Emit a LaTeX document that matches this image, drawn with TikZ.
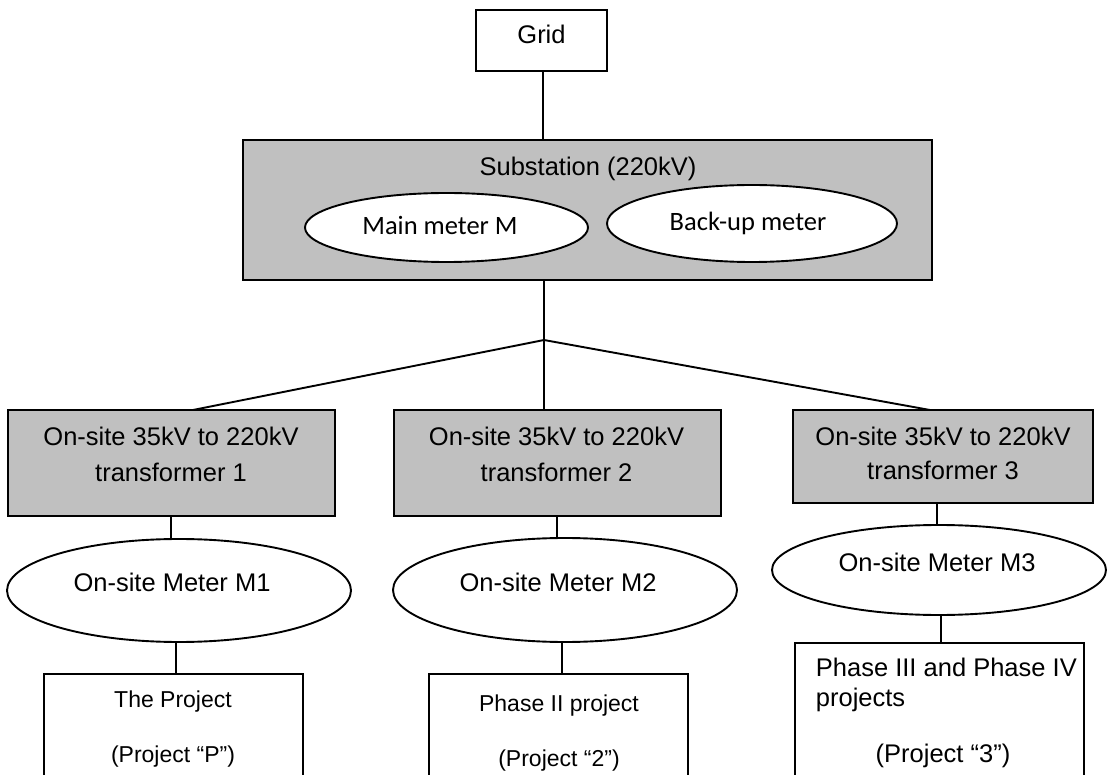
\documentclass[tikz,border=0pt]{standalone}
\usepackage{fontspec}
\setmainfont{Liberation Sans}
\newfontfamily\calib{Carlito}
\usetikzlibrary{shapes.geometric,calc}
\definecolor{boxgray}{RGB}{192,192,192}
\begin{document}
\begin{tikzpicture}[x=1pt,y=-1pt,line width=1.9pt,
  box/.style={draw,rectangle,inner sep=0pt,fill=white},
  graybox/.style={draw,rectangle,inner sep=0pt,fill=boxgray},
  meter/.style={draw,ellipse,inner sep=0pt,fill=white},
  txt/.style={inner sep=0pt,anchor=base,font=\fontsize{25.5}{30}\selectfont},
  smalltxt/.style={inner sep=0pt,anchor=base,font=\fontsize{23}{28}\selectfont},
  caltxt/.style={inner sep=0pt,anchor=base,font=\calib\fontsize{26.5}{30}\selectfont},
  lefttxt/.style={inner sep=0pt,anchor=base west,font=\fontsize{25.5}{30}\selectfont}]
\useasboundingbox (0,0) rectangle (1109,775);
\clip (0,0) rectangle (1109,775);
\fill[white] (0,0) rectangle (1109,775);

% boxes
\node[box,minimum width=131pt,minimum height=61pt] (grid) at (541.5,40.5) {};
\node[graybox,minimum width=689pt,minimum height=140pt] (sub) at (587.5,210) {};
\node[meter,minimum width=283pt,minimum height=69pt] (mm) at (446.5,227.5) {};
\node[meter,minimum width=290pt,minimum height=77pt] (bm) at (752,223.5) {};
\node[graybox,minimum width=327pt,minimum height=106pt] (t1) at (171.5,463) {};
\node[graybox,minimum width=327pt,minimum height=106pt] (t2) at (557.5,463) {};
\node[graybox,minimum width=300pt,minimum height=93pt] (t3) at (943,456.5) {};
\node[meter,minimum width=344pt,minimum height=103pt] (m1) at (179,590.5) {};
\node[meter,minimum width=344pt,minimum height=104pt] (m2) at (565,590) {};
\node[meter,minimum width=334pt,minimum height=90pt] (m3) at (939,570) {};
\node[box,minimum width=259pt,minimum height=116pt] (p1) at (173.5,732) {};
\node[box,minimum width=259pt,minimum height=116pt] (p2) at (558.5,732) {};
\node[box,minimum width=289pt,minimum height=147pt] (p3) at (939.5,716.5) {};

% texts
\node[txt] (gridt) at (541.5,44) {Grid};
\node[txt] (subt) at (588,176) {Substation (220kV)};
\node[caltxt] (mmt) at (440,235) {Main meter M};
\node[caltxt] (bmt) at (748,231) {Back-up meter};
\node[txt] (t1a) at (171,446) {On-site 35kV to 220kV};
\node[txt] (t1b) at (171,482) {transformer 1};
\node[txt] (t2a) at (556.5,446) {On-site 35kV to 220kV};
\node[txt] (t2b) at (556.5,482) {transformer 2};
\node[txt] (t3a) at (943,446) {On-site 35kV to 220kV};
\node[txt] (t3b) at (943,479) {transformer 3};
\node[txt] (m1t) at (172,591) {On-site Meter M1};
\node[txt] (m2t) at (558,591) {On-site Meter M2};
\node[txt] (m3t) at (937,571) {On-site Meter M3};
\node[smalltxt] (p1a) at (173,707) {The Project};
\node[smalltxt] (p1b) at (173,762) {(Project “P”)};
\node[smalltxt] (p2a) at (559,711) {Phase II project};
\node[smalltxt] (p2b) at (559,766) {(Project “2”)};
\node[lefttxt] (p3a) at (815,676) {Phase III and Phase IV};
\node[lefttxt] (p3b) at (815,706) {projects};
\node[txt] (p3c) at (943,762) {(Project “3”)};

% connectors
\coordinate (j) at (544,340);
\coordinate (e1) at (193,410);
\coordinate (e3) at (930,410);
\coordinate (gx) at (543,0);
\coordinate (d1) at (171,0);
\coordinate (d2) at (557,0);
\coordinate (d3) at (937,0);
\coordinate (c1) at (176,0);
\coordinate (c2) at (562,0);
\coordinate (c3) at (941,0);
\draw (gx |- grid.south) -- (gx |- sub.north);
\draw (j |- sub.south) -- (j) -- (j |- t2.north);
\draw (j) -- (e1);
\draw (j) -- (e3);
\draw (d1 |- t1.south) -- (d1 |- m1.north);
\draw (c1 |- m1.south) -- (c1 |- p1.north);
\draw (d2 |- t2.south) -- (d2 |- m2.north);
\draw (c2 |- m2.south) -- (c2 |- p2.north);
\draw (d3 |- t3.south) -- (d3 |- m3.north);
\draw (c3 |- m3.south) -- (c3 |- p3.north);
\end{tikzpicture}
\end{document}
